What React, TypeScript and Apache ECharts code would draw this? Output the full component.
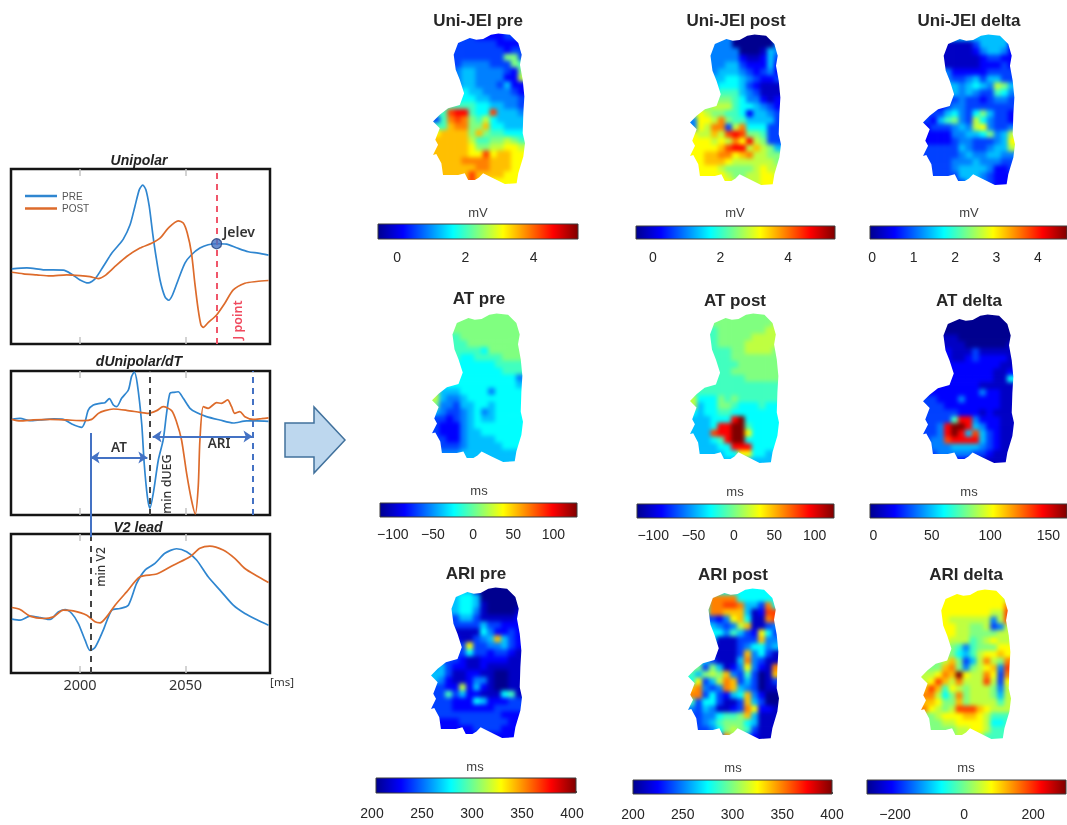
import React, { useEffect, useRef } from "react";
import * as echarts from "echarts";

const SANS = "Liberation Sans";
const NOTE = "Noto Sans";
const TICKS_MS = [2000, 2050];
const X_MIN = 1967.3;
const X_MAX = 2090;

// Curves: [ms, amplitude in arbitrary units]
const unipolarPre = [[1967.7,42.9],[1974.8,43.5],[1982.6,42.4],[1992.1,42.2],[1996.1,39.9],[2000,36.6],[2003.9,34.9],[2007.1,37.2],[2011,44.3],[2015,51.9],[2017.4,55.3],[2020.5,59.9],[2023.7,68.1],[2026,78.6],[2028.1,88.2],[2029.7,90.8],[2031.2,88.2],[2032.8,78.6],[2034.4,63.4],[2036,50],[2037.9,36.6],[2040.2,27.1],[2042,25],[2043.8,28],[2046.5,36.6],[2049.7,46.2],[2052.8,51],[2056.8,54.8],[2060.7,56.7],[2064.7,57.3],[2069.4,57.1],[2074.1,55],[2079.7,52.7],[2084.4,51.9],[2089.3,50.8]];
const unipolarPost = [[1967.7,41],[1973.2,40.1],[1979.5,39.5],[1985.8,38.9],[1993.7,39.5],[2000,39.1],[2004.7,38.5],[2008.7,37.4],[2011.8,39.1],[2016.6,44.3],[2022.1,50],[2028.4,54.8],[2033.9,57.6],[2037.9,60.5],[2041.8,66.2],[2046.5,70.4],[2048.9,69.1],[2050.8,63.4],[2052.8,51.9],[2054.4,34.7],[2056,19.5],[2057.3,10.9],[2058.4,9.5],[2060.7,12.2],[2064.7,16.6],[2068.6,23.3],[2072.6,30.9],[2078.1,34.7],[2083.6,35.7],[2089.3,36.3]];
const derivPre = [[1967.7,66.4],[1971.6,67.1],[1976.3,65.5],[1981.1,66],[1987.4,66.7],[1992.1,66.4],[1996.1,63.2],[2000.8,60.9],[2002.4,64.8],[2003.9,72.9],[2006.3,76.4],[2009.5,77.5],[2011.8,78],[2013.9,80.8],[2015.8,76.4],[2017.4,75.2],[2019.7,81],[2022.9,86.8],[2024.4,96.1],[2025.7,99.3],[2027.1,91.4],[2029.2,63.7],[2030.4,35.9],[2031.9,12.7],[2033.1,4.6],[2034.7,15],[2037.1,38.2],[2039.4,52.1],[2041,70.6],[2042.6,84.5],[2044.5,85.2],[2046.5,85.6],[2048.9,81],[2052.1,74.1],[2055.2,71.1],[2059.9,68.3],[2066.2,66],[2072.6,63.9],[2078.9,65.3],[2083.6,65.3],[2089.3,65]];
const derivPost = [[1967.7,66.4],[1971.6,65.3],[1977.9,66],[1985.8,66.4],[1993.7,66],[2001.6,65.5],[2005.5,66.4],[2008.7,70.6],[2011.8,72.5],[2015.8,73.6],[2022.1,72.7],[2028.4,71.3],[2032.3,70.6],[2036.3,72.5],[2039.4,75.2],[2043.4,72.5],[2045.7,64.8],[2048.1,52.1],[2050.5,28.9],[2052.8,10.4],[2054.6,0.7],[2056,19.7],[2056.8,52.1],[2058.4,75.2],[2060.7,74.1],[2064.7,78],[2067,77.5],[2069.9,79.9],[2071.8,75.2],[2073.3,70.6],[2075.7,71.8],[2078.1,68.3],[2082,66.4],[2086,66.9],[2089.3,67.4]];
const v2Pre = [[1967.7,38.7],[1971.6,38],[1976.3,40.9],[1981.1,39.9],[1985.8,38.5],[1989.7,44],[1992.9,45.7],[1996.1,42.8],[1999.2,35.6],[2002.4,23.6],[2004.7,16.3],[2007.1,18.3],[2011,30.8],[2015,45.2],[2018.9,46.4],[2022.9,48.8],[2026.8,64.4],[2030.8,74],[2035.5,78.8],[2040.2,86.1],[2045.7,89.4],[2050.5,87.3],[2055.2,81.3],[2060.7,69.2],[2067,58.4],[2072.6,48.8],[2078.1,42.8],[2083.6,38.5],[2089.3,34.4]];
const v2Post = [[1967.7,47.1],[1971.6,45.7],[1976.3,40.9],[1982.6,39.2],[1987.4,40.4],[1992.1,45.2],[1996.8,44.7],[2003.2,41.6],[2007.1,36.8],[2009.5,36.1],[2012.6,40.4],[2016.6,48.8],[2022.1,58.4],[2028.4,69.2],[2036.3,71.2],[2044.2,77.6],[2052.1,83.7],[2056.8,89.7],[2061.5,91.3],[2067.8,88.5],[2073.3,82.5],[2078.1,75.2],[2083.6,70],[2089.3,65.1]];
const jelevPoint = [[2064.7, 57.3]];

// Maps: each character is one cell's level on the jet scale (0 navy ... 6 cyan ... a yellow ... e red, f dark red)
const uniPre = ["3333332222333","3333333332222","3333333333233","3333333333883","3333444433387","3334554444328","3334554444229","4444554443522","5555655444432","6666665544443","7777776655443","77dee766d5554","37cdc87965555","77bcc88b66555","abbbb8b877666","bbbbb97788987","bbbbba8899aa9","bbbbbaadabbaa","bbbbccccbbbaa","bbbbbbccbbbaa","bbbbbdbbbbaaa","bbbbbdbbaaaaa"];
const uniPost = ["4444440000004","4444440000004","4444444000154","4444444211253","4444455322252","4444555432342","5555566543223","5555666532111","6666777543111","7778887644212","8889997665432","8a98877625543","4aa9c87755553","4a9cc39c66633","a99b9ded88733","aaa9a9cae9833","aaaabdee9b985","aabbccabc9988","aabbba9999998","aaaa988889a99","aaaaa98899aa9","aaaaaa9999aaa"];
const uniDelta = ["5555555555555","1111111355552","1111111245542","1111111123322","1111111122232","4444222223333","4444334535533","4445545654985","3334545433764","3333343323443","3323443333333","3335643685332","3257843964332","23334549a4334","2222445568459","222234433345a","3333354334559","3333345445544","3333444544433","3333455554223","3333355543222","3333335543222"];
const atPre = ["8888888888888","8888888888888","8888888888888","7777888888888","7777788888888","7777777688888","7777667777888","6666666667777","6666666666777","6666666666664","6666666666665","9555666646666","9544566666666","8443556656666","5433456456666","3323456556666","3222456666666","3222455666666","3322455556666","4333455555666","4444555555555","5555555555555"];
const atPost = ["8888888888888","8888888888889","7777888888899","7777888889999","7777888899999","7777778899998","7777778888888","7777777888888","7777778888888","7777777788888","7777777777777","7777777777777","9666878777777","9566887666766","6566776666666","555666ef66666","5556eeff76666","555deeffa6666","55567eff66666","555566eee6666","5555566aa6655","5555555555555"];
const atDelta = ["0000000000000","0000000000000","0000000000000","1111100000000","1111110000001","2222111311111","2222112322221","2222222222211","2222222222112","2222222222116","2222222211111","2222222242211","3322242222211","3332222222211","3333322212111","33337ee422211","334effe542211","334efe5d53211","344deeee53211","3444555543211","3344444332111","2222222111111"];
const ariPre = ["5555551000000","5555665000000","5555665100000","4455664100001","3333553111112","3333333533222","1111111642232","222211345b532","33333a3344532","3333363323321","3333211222211","4532211211111","5531122110011","5421124410011","3322925210011","3373522111671","3332226522233","3332222223333","3333333333222","2222333333322","2222223333222","2222222222222"];
const ariPost = ["6666666666666","666cccc666666","666ccddc553c6","666ccbbb512dd","333324ab611cd","66654349b1134","6666647532a63","6666111333b44","6661111346645","66611113b4631","66531115c4311","88385124a421c","75898b437301b","6a359cb353013","bc434cb543011","cc363256b4200","73663113b5300","43541123ca221","33446778b5111","3345788865111","3334689873111","33333c8842111"];
const ariDelta = ["aaaaaaaaaaaaa","aaaaaaaaaaaa9","aaaaaaaaaaaac","aaaaaaaaaa99d","aaaa99999949d","aaaaa99889349","aaaaa99888899","aaaa999789a99","88888747888aa","888886579aaba","8889b8359c98c","888bc8489ab4d","99acbfa99ca3c","9adb9c999d93a","bdb7a98999849","cc968c8999859","bba88b8999979","ca989dddba999","889aaabba9777","88899aaaa9667","8888899aa9777","8888899997777"];

// Outline shared by every map, in fractions of its box
const outline = [[.4,.033],[.47,.045],[.545,.04],[.63,.012],[.71,.004],[.836,.011],[.927,.066],[.964,.143],[.945,.209],[.975,.308],[.993,.418],[.982,.527],[.975,.659],[1,.725],[.982,.813],[.927,.923],[.909,.989],[.782,.993],[.655,.956],[.545,.923],[.5,.95],[.455,.967],[.382,.967],[.345,.923],[.273,.934],[.109,.934],[.091,.857],[.036,.796],[0,.802],[.055,.736],[.025,.703],[.073,.626],[.036,.604],[0,.582],[.073,.538],[.164,.495],[.291,.473],[.338,.396],[.291,.308],[.247,.242],[.225,.143],[.273,.066]];

const titles = ["Uni-JEI pre","Uni-JEI post","Uni-JEI delta","AT pre","AT post","AT delta","ARI pre","ARI post","ARI delta"];
const units = ["mV","mV","mV","ms","ms","ms","ms","ms","ms"];
const grids = [uniPre,uniPost,uniDelta,atPre,atPost,atDelta,ariPre,ariPost,ariDelta];
const titlePos = [[478,20],[736,20],[969,20],[479,298],[735,300],[969,300],[476,573],[733,574],[966,574]];
const unitPos = [[478,212],[735,212],[969,212],[479,490],[735,491],[969,491],[475,766],[733,767],[966,767]];
const mapBox = [[433,33,92,152],[690,34,91,152],[923,34,92,152],[432,313,91,150],[690,313,89,151],[923,314,91,150],[431,587,91,152],[688,588,91,152],[921,589,90,151]];
const barBox = [[378,224,200,15],[636,226,199,13],[870,226,197,13],[380,503,197,14],[637,504,197,14],[870,504,197,14],[376,778,200,15],[633,780,199,14],[867,780,199,14]];
const barRange = [[-0.56,5.3],[-0.5,5.39],[-0.05,4.7],[-116,129.5],[-120,124],[-3,166],[200,400],[200,400],[-281,295]];
const barTicks = [[0,2,4],[0,2,4],[0,1,2,3,4],[-100,-50,0,50,100],[-100,-50,0,50,100],[0,50,100,150],[200,250,300,350,400],[200,250,300,350,400],[-200,0,200]];
const barShift = [0,0,0,0,0,0,8,0,0];
const barMargin = [11,11,11,10,10,10,13,13,13];

const JET_LEVELS = ["#00008f","#0000c4","#0000ff","#0040ff","#0080ff","#00bfff","#00ffff","#40ffbf","#80ff80","#bfff40","#ffff00","#ffbf00","#ff8000","#ff4000","#ff0000","#800000"];
const JET_STOPS = [[0,"#00008f"],[0.125,"#0000ff"],[0.375,"#00ffff"],[0.625,"#ffff00"],[0.875,"#ff0000"],[1,"#800000"]];

const BLUE = "#2f86d0";
const ORANGE = "#dd6b2b";
const ACCENT = "#4472c4";

// Lower layer: the map cells alone, softened by the blur on its container
function buildCellOption() {
  const grid: any[] = [];
  const xAxis: any[] = [];
  const yAxis: any[] = [];
  const series: any[] = [];
  const visualMap: any[] = [];
  grids.forEach((rows, m) => {
    const rowCount = rows.length;
    const colCount = rows[0].length;
    const [bx, by, bw, bh] = mapBox[m];
    grid.push({ left: bx, top: by, width: bw, height: bh });
    xAxis.push({ type: "value", gridIndex: m, min: 0, max: colCount, show: false });
    yAxis.push({ type: "value", gridIndex: m, min: 0, max: rowCount, inverse: true, show: false });
    const cells: number[][] = [];
    rows.forEach((row, r) => {
      row.split("").forEach((ch, c) => cells.push([c, r, parseInt(ch, 16)]));
    });
    visualMap.push({
      type: "continuous", show: false, seriesIndex: m, dimension: 2, min: 0, max: 15,
      inRange: { color: JET_LEVELS },
    });
    series.push({
      type: "custom", xAxisIndex: m, yAxisIndex: m, data: cells, encode: { x: 0, y: 1 }, silent: true,
      renderItem: (_p: any, api: any) => {
        const col = api.value(0);
        const row = api.value(1);
        const tl = api.coord([col, row]);
        const sz = api.size([1, 1]);
        const pad = 3;
        const x0 = tl[0] - (col === 0 ? pad : 0);
        const y0 = tl[1] - (row === 0 ? pad : 0);
        const x1 = tl[0] + sz[0] + 0.6 + (col === colCount - 1 ? pad : 0);
        const y1 = tl[1] + sz[1] + 0.6 + (row === rowCount - 1 ? pad : 0);
        return {
          type: "rect",
          shape: { x: x0, y: y0, width: x1 - x0, height: y1 - y0 },
          style: { fill: api.visual("color") },
        };
      },
    });
  });
  return { animation: false, backgroundColor: "#ffffff", grid, xAxis, yAxis, series, visualMap };
}

function buildOption() {
  const grid: any[] = [];
  const xAxis: any[] = [];
  const yAxis: any[] = [];
  const series: any[] = [];
  const graphic: any[] = [];

  // Waveform panels
  const panels = [
    { box: [11, 169, 259, 175], pre: unipolarPre, post: unipolarPost, labels: false },
    { box: [11, 371, 259, 144], pre: derivPre, post: derivPost, labels: false },
    { box: [11, 534, 259, 139], pre: v2Pre, post: v2Post, labels: true },
  ];
  const dash = (x: number, color: string) => ({
    xAxis: x,
    lineStyle: { color, type: [6, 5], width: 2 },
  });
  const arrow = (a: number, b: number, y: number) => [
    { coord: [a, y], symbol: "arrow", symbolSize: 9, lineStyle: { color: ACCENT, width: 2.2, type: "solid" } },
    { coord: [b, y], symbol: "arrow", symbolSize: 9 },
  ];
  const marks: any[][] = [
    [dash(2064.8, "#f0566a")],
    [dash(2033, "#444444"), dash(2081.9, ACCENT), arrow(2005, 2031.9, 40), arrow(2034.4, 2081.7, 54.6)],
    [dash(2005, "#444444")],
  ];
  panels.forEach((p, i) => {
    const gi = grid.length;
    grid.push({ left: p.box[0], top: p.box[1], width: p.box[2], height: p.box[3], show: true, borderColor: "#151515", borderWidth: 2.5, backgroundColor: "transparent" });
    const common = {
      type: "value", gridIndex: gi, min: X_MIN, max: X_MAX, splitLine: { show: false },
      axisLine: { show: false },
      axisTick: { show: true, inside: true, length: 7, customValues: TICKS_MS, lineStyle: { color: "#c4c4c4", width: 1.5 } },
    };
    const xi = xAxis.length;
    xAxis.push({
      ...common, position: "bottom",
      axisLabel: p.labels
        ? { show: true, customValues: TICKS_MS, margin: 3, fontSize: 14.5, color: "#333", fontFamily: NOTE, formatter: (v: number) => String(v) }
        : { show: false },
    });
    xAxis.push({ ...common, position: "top", axisLabel: { show: false } });
    const yi = yAxis.length;
    yAxis.push({ type: "value", gridIndex: gi, min: 0, max: 100, show: false });
    series.push({
      type: "line", name: "PRE", xAxisIndex: xi, yAxisIndex: yi, data: p.pre, smooth: 0.25, symbol: "none", z: 3,
      lineStyle: { color: BLUE, width: 1.7 }, itemStyle: { color: BLUE },
      markLine: { silent: true, symbol: "none", animation: false, label: { show: false }, data: marks[i] },
    });
    series.push({
      type: "line", name: "POST", xAxisIndex: xi, yAxisIndex: yi, data: p.post, smooth: 0.25, symbol: "none", z: 4,
      lineStyle: { color: ORANGE, width: 1.7 }, itemStyle: { color: ORANGE },
    });
    if (i === 0) {
      series.push({
        type: "scatter", xAxisIndex: xi, yAxisIndex: yi, data: jelevPoint, symbolSize: 10, z: 6,
        itemStyle: { color: ACCENT, borderColor: "#1f3f7a", borderWidth: 1.2 },
      });
    }
  });

  // White masks around the map outlines, and colour bars
  grids.forEach((rows, m) => {
    const rowCount = rows.length;
    const colCount = rows[0].length;
    const [bx, by, bw, bh] = mapBox[m];
    const gi = grid.length;
    grid.push({ left: bx, top: by, width: bw, height: bh });
    const xi = xAxis.length;
    xAxis.push({ type: "value", gridIndex: gi, min: 0, max: colCount, show: false });
    const yi = yAxis.length;
    yAxis.push({ type: "value", gridIndex: gi, min: 0, max: rowCount, inverse: true, show: false });
    series.push({
      type: "custom", xAxisIndex: xi, yAxisIndex: yi, data: [[0, 0]], encode: { x: 0, y: 1 }, z: 3, silent: true,
      renderItem: (_p: any, api: any) => {
        const c = (x: number, y: number) => api.coord([x, y]);
        const e = 2.2;
        const outer = [c(-e, -e), c(-e, rowCount + e), c(colCount + e, rowCount + e), c(colCount + e, -e), c(-e, -e)];
        const inner = outline.map(([fx, fy]) => c(fx * colCount, fy * rowCount));
        const points = [...outer, ...inner, inner[0], outer[0]];
        return { type: "polygon", shape: { points }, style: { fill: "#ffffff", stroke: "none" } };
      },
    });

    const [cx, cy, cw, ch] = barBox[m];
    const [lo, hi] = barRange[m];
    const gb = grid.length;
    grid.push({ left: cx, top: cy, width: cw, height: ch, show: true, borderColor: "#3c3c3c", borderWidth: 1, backgroundColor: "transparent", z: 4 });
    const xb = xAxis.length;
    xAxis.push({
      type: "value", gridIndex: gb, min: lo, max: hi, splitLine: { show: false }, axisLine: { show: false }, position: "bottom",
      axisTick: { show: true, inside: true, length: 2, customValues: barTicks[m], lineStyle: { color: "#333", width: 0.8 } },
      axisLabel: {
        show: true, customValues: barTicks[m], margin: barMargin[m], fontSize: 14, fontFamily: SANS, color: "#262626",
        padding: [0, barShift[m], 0, 0],
        formatter: (v: number) => String(v).replace("-", "\u2212"),
      },
    });
    const yb = yAxis.length;
    yAxis.push({ type: "value", gridIndex: gb, min: 0, max: 1, show: false });
    series.push({
      type: "custom", xAxisIndex: xb, yAxisIndex: yb, data: [[lo, hi]], silent: true, z: 2, encode: { x: [0, 1] },
      renderItem: (_p: any, api: any) => {
        const a = api.coord([api.value(0), 1]);
        const b = api.coord([api.value(1), 0]);
        return {
          type: "rect",
          shape: { x: a[0], y: a[1], width: b[0] - a[0], height: b[1] - a[1] },
          style: {
            fill: new echarts.graphic.LinearGradient(0, 0, 1, 0, JET_STOPS.map(([offset, color]) => ({ offset: offset as number, color: color as string }))),
          },
        };
      },
    });

    graphic.push({
      type: "text", x: titlePos[m][0], y: titlePos[m][1], z: 50,
      style: { text: titles[m], fontSize: 17, fontWeight: "bold", fontFamily: SANS, fill: "#262626", textAlign: "center", textVerticalAlign: "middle" },
    });
    graphic.push({
      type: "text", x: unitPos[m][0], y: unitPos[m][1], z: 50,
      style: { text: units[m], fontSize: 13, fontFamily: SANS, fill: "#404040", textAlign: "center", textVerticalAlign: "middle" },
    });
  });

  // Panel titles and annotations
  const label = (text: string, x: number, y: number, o: any = {}, rot = 0) => ({
    type: "text", x, y, rotation: rot, z: 60,
    style: { text, fontSize: 12, fontFamily: NOTE, fill: "#333", textAlign: "center", textVerticalAlign: "middle", ...o },
  });
  const ital = { fontStyle: "italic", fontWeight: "bold", fontSize: 14, fontFamily: SANS, fill: "#222" };
  graphic.push(label("Unipolar", 139, 160, ital));
  graphic.push(label("dUnipolar/dT", 139, 361, ital));
  graphic.push(label("V2 lead", 138, 527, ital));
  graphic.push(label("Jelev", 239, 231, { fontWeight: 600, fontSize: 14 }));
  graphic.push(label("J point", 237, 320, { fill: "#f04a5e", fontWeight: 600, fontSize: 12.5 }, Math.PI / 2));
  graphic.push(label("min dUEG", 166, 484, { fontSize: 12.5, fontWeight: 500 }, Math.PI / 2));
  graphic.push(label("min V2", 100, 567, { fontSize: 12, fontWeight: 500 }, Math.PI / 2));
  graphic.push(label("AT", 119, 447, { fontSize: 13.5, fontWeight: 600 }));
  graphic.push(label("ARI", 219, 443, { fontSize: 13.5, fontWeight: 600 }));
  graphic.push(label("[ms]", 282, 681, { fontSize: 11.5 }));
  graphic.push({ type: "line", z: 60, shape: { x1: 91, y1: 433, x2: 91, y2: 537 }, style: { stroke: ACCENT, lineWidth: 2 } });
  graphic.push({
    type: "polygon", z: 60,
    shape: { points: [[285, 423], [314, 423], [314, 407], [345, 440], [314, 473], [314, 457], [285, 457]] },
    style: { fill: "#bdd7ee", stroke: "#41719c", lineWidth: 1.5 },
  });

  return {
    animation: false,
    backgroundColor: "transparent",
    legend: {
      show: true, data: ["PRE", "POST"], orient: "vertical", left: 25, top: 191, padding: 0, icon: "rect", itemWidth: 32, itemHeight: 2.5, itemGap: 2.5,
      textStyle: { fontSize: 10, color: "#555", fontFamily: SANS }, selectedMode: false,
    },
    grid, xAxis, yAxis, series, graphic,
  };
}

export default function App() {
  const cellRef = useRef<HTMLDivElement>(null);
  const ref = useRef<HTMLDivElement>(null);
  useEffect(() => {
    if (!ref.current || !cellRef.current) return;
    const cells = echarts.init(cellRef.current, undefined, { renderer: "svg" });
    cells.setOption(buildCellOption() as any);
    const chart = echarts.init(ref.current, undefined, { renderer: "svg" });
    chart.setOption(buildOption() as any);
    return () => {
      chart.dispose();
      cells.dispose();
    };
  }, []);
  const layer: React.CSSProperties = { position: "absolute", left: 0, top: 0, width: 1067, height: 825 };
  return (
    <div style={{ ...layer, overflow: "hidden", background: "#ffffff" }}>
      <div ref={cellRef} style={{ ...layer, filter: "blur(2px)" }} />
      <div ref={ref} style={{ ...layer, filter: "blur(0.6px)" }} />
    </div>
  );
}
